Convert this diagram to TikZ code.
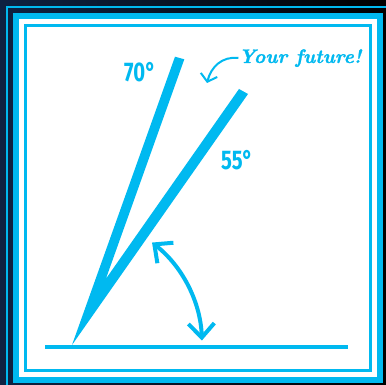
\documentclass[tikz,border=0pt]{standalone}
\usepackage{fontspec}
\usetikzlibrary{arrows.meta,calc}
\newfontfamily\degreefont{Fira Sans}
\newfontfamily\notefont{Latin Modern Roman}[BoldItalicFeatures={FakeBold=1.2}]
\definecolor{futurecyan}{RGB}{0,185,240}
\definecolor{nightblue}{RGB}{14,34,66}

\begin{document}
\begin{tikzpicture}[
    x=1pt, y=1pt,
    >={Straight Barb[length=14pt,width=26pt]},
    frame/.style={draw=futurecyan},
    ray/.style={fill=futurecyan},
    angle/.style={text=futurecyan, inner sep=0pt, font=\degreefont\bfseries\fontsize{27}{27}\selectfont},
    note/.style={text=futurecyan, inner sep=0pt, font=\notefont\bfseries\itshape\fontsize{19.5}{19.5}\selectfont},
    swing/.style={<->, draw=futurecyan, line width=4pt},
    hint/.style={-{Straight Barb[length=7pt,width=17pt]}, draw=futurecyan, line width=2pt}
]

    \useasboundingbox (0,0) rectangle (386,385);

    % Background
    \shade[left color=nightblue, right color=black] (0,0) rectangle (386,385);
    \draw[frame, line width=2pt] (7,0) -- (7,378) -- (386,378);

    % Frames
    \draw[frame, line width=6pt, fill=white] (16,5) rectangle (380,369);
    \draw[frame, line width=3pt] (25.5,14) rectangle (370,359.5);

    % Ground line
    \coordinate (groundL) at (45,38);
    \coordinate (groundR) at (348,38);
    \draw[frame, line width=3.5pt] (groundL) -- (groundR);

    % Rays (outer edges meet at the vertex)
    \coordinate (vtx) at (72,40);
    \coordinate (a70) at (175,328.3);
    \coordinate (b70) at (184.3,325.7);
    \coordinate (a55) at (239,296);
    \coordinate (b55) at (248,291);
    \coordinate (c70) at ($(b70)+(vtx)-(a70)$);
    \coordinate (c55) at ($(a55)+(vtx)-(b55)$);
    \fill[ray] (vtx) -- (a70) -- (b70)
        -- (intersection of b70--c70 and a55--c55)
        -- (a55) -- (b55) -- cycle;

    % Labels
    \node[angle] (lab70) at (140,313) {\scalebox{0.75}[1]{70°}};
    \node[angle] (lab55) at (237,225) {\scalebox{0.75}[1]{55°}};
    \node[note] (future) at (300,327) {Your future!};

    % Arrows
    \coordinate (futpt) at (207,302);
    \draw[hint] (future.west) .. controls (222,329) and (211,318) .. (futpt);
    \draw[swing] ($(vtx)+(2:130)$) arc[start angle=2, end angle=52, radius=130];

\end{tikzpicture}
\end{document}
